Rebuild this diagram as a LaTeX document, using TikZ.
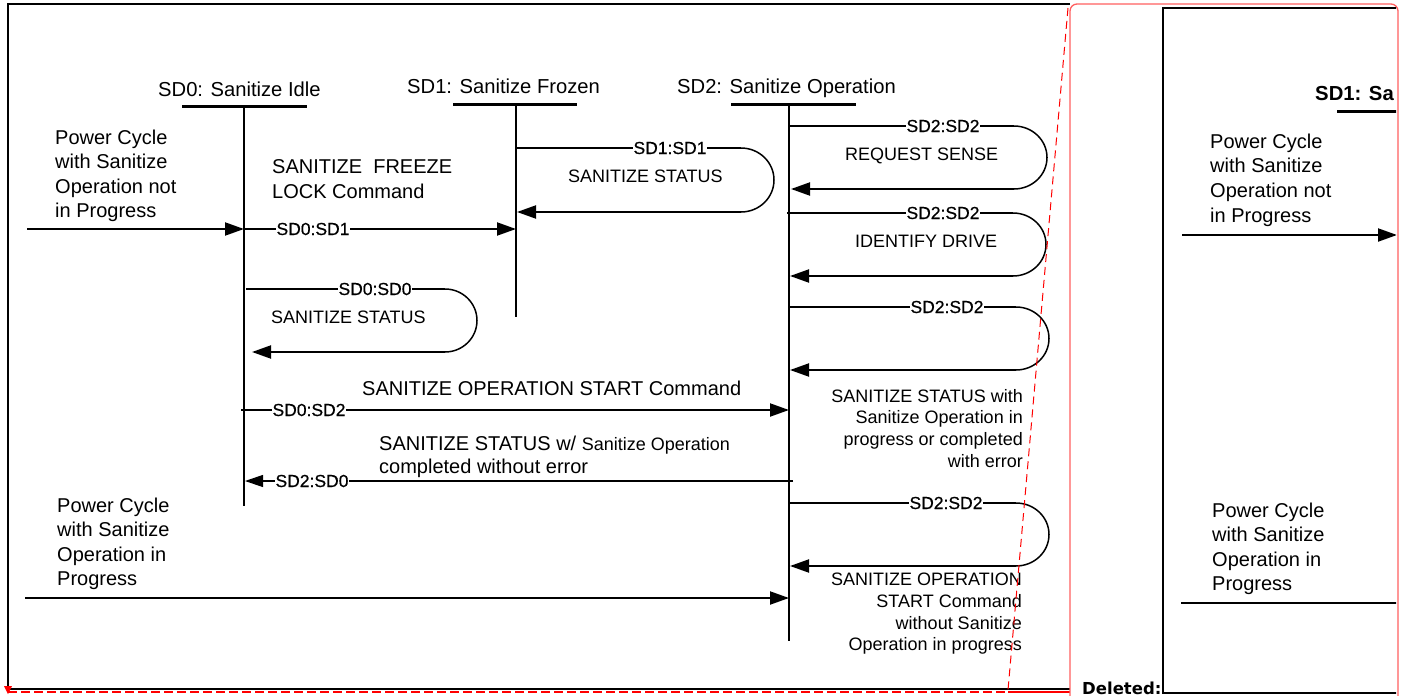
\documentclass[tikz,border=0pt]{standalone}
\usepackage{fontspec}
\setmainfont{Liberation Sans}
\newfontfamily\delfont{DejaVu Sans}
\newfontfamily\lblfont{Liberation Sans}[FakeBold=0.5]
\usetikzlibrary{arrows.meta}
\definecolor{boxred}{RGB}{255,95,95}
\definecolor{dashred}{RGB}{255,0,0}
\tikzset{
 big/.style={font=\fontsize{20}{24.5}\selectfont, inner sep=0pt},
 small/.style={font=\fontsize{18}{21.7}\selectfont, inner sep=0pt},
 title/.style={font=\fontsize{20.2}{24}\selectfont, inner sep=0pt, anchor=base west},
 lbl/.style={font=\lblfont\fontsize{17.5}{20}\selectfont, fill=white, inner xsep=0.6pt, inner ysep=0pt},
 bar/.style={line width=3pt},
 life/.style={line width=2pt},
 arrhead/.style={-{Triangle[length=19pt,width=13pt]}},
 arr/.style={line width=2pt, arrhead},
 thinarr/.style={line width=1.2pt, -{Triangle[length=18pt,width=12pt]}},
 loopout/.style={line width=1.4pt},
 loopcurve/.style={line width=1.5pt},
 loopback/.style={line width=2pt, arrhead},
}
\begin{document}
\begin{tikzpicture}[x=1pt,y=-1pt]
\useasboundingbox (0,0) rectangle (1403,696);
% outer frame
\coordinate (fTR) at (1070,4); \coordinate (fTL) at (8,4);
\coordinate (fBL) at (8,689); \coordinate (fBR) at (1070,689);
\draw[line width=2pt] (fTR) -- (fTL) -- (fBL);
\draw[line width=1.4pt] (fBL) -- (fBR);

% titles, bars, lifelines
\node[title] (t0) at (158,96) {SD0: Sanitize Idle};
\node[title] (t1) at (407,93) {SD1: Sanitize Frozen};
\node[title] (t2) at (677,93) {SD2: Sanitize Operation};
\coordinate (b0l) at (182,106); \coordinate (b0r) at (307,106);
\coordinate (b1l) at (453,104); \coordinate (b1r) at (577,104);
\coordinate (b2l) at (731,104); \coordinate (b2r) at (856,104);
\draw[bar] (b0l) -- (b0r);
\draw[bar] (b1l) -- (b1r);
\draw[bar] (b2l) -- (b2r);
\coordinate (l0t) at (244,106); \coordinate (l0b) at (244,506);
\coordinate (l1t) at (516,104); \coordinate (l1b) at (516,317);
\coordinate (l2t) at (789,104); \coordinate (l2b) at (789,641);
\draw[life] (l0t) -- (l0b);
\draw[life] (l1t) -- (l1b);
\draw[life] (l2t) -- (l2b);

% texts
\node[big, anchor=north west, align=left] (pc1) at (55,129.4) {Power Cycle\\with Sanitize\\Operation not\\in Progress};
\node[big, anchor=north west, align=left] (frz) at (272,159.7) {SANITIZE\ \ FREEZE\\LOCK Command};
\node[big, anchor=base west] (opst) at (362,395) {SANITIZE OPERATION START Command};
\node[anchor=north west, align=left, inner sep=0pt, font=\fontsize{20}{23}\selectfont] (stw) at (379,435.7) {SANITIZE STATUS w/ {\fontsize{18}{21}\selectfont Sanitize Operation}\\completed without error};
\node[big, anchor=north west, align=left] (pc2) at (57,497.4) {Power Cycle\\with Sanitize\\Operation in\\Progress};
\node[small, anchor=base west] (ss0) at (271,323) {SANITIZE STATUS};
\node[small, anchor=base west] (ss1) at (568,182) {SANITIZE STATUS};
\node[small, anchor=base west] (rs) at (845,160) {REQUEST SENSE};
\node[small, anchor=base west] (idd) at (855,247) {IDENTIFY DRIVE};
\node[small, anchor=north east, align=right] (ssw) at (1023,388.9) {SANITIZE STATUS with\\Sanitize Operation in\\progress or completed\\with error};
\node[small, anchor=north east, align=right] (sow) at (1022,573.1) {SANITIZE OPERATION\\START Command\\without Sanitize\\Operation in progress};

% straight messages
\coordinate (pc1s) at (27,229); \coordinate (m1a) at (244,229); \coordinate (m1b) at (516,229);
\draw[arr] (pc1s) -- (m1a);
\draw[arr] (m1a) -- (m1b);
\node[lbl] (n01) at (313,229) {SD0:SD1};
\coordinate (m2a) at (241,410); \coordinate (m2b) at (789,410);
\draw[arr] (m2a) -- (m2b);
\node[lbl] (n02) at (309,410) {SD0:SD2};
\coordinate (m3a) at (793,481); \coordinate (m3b) at (245,481);
\draw[thinarr] (m3a) -- (m3b);
\node[lbl] (n20) at (312,481) {SD2:SD0};
\coordinate (pc2s) at (25,598); \coordinate (pc2e) at (789,598);
\draw[arr] (pc2s) -- (pc2e);

% self loops
% SD0
\coordinate (a0) at (246,289); \coordinate (a0b) at (445,289); \coordinate (a0c) at (445,352); \coordinate (a0d) at (252,352);
\draw[loopout] (a0) -- (a0b);
\draw[loopcurve] (a0b) arc[start angle=-90,end angle=90,x radius=32,y radius=31.5];
\draw[loopback] (a0c) -- (a0d);
\node[lbl] (n00) at (375,289) {SD0:SD0};
% SD1
\coordinate (a1) at (516,148); \coordinate (a1b) at (741,148); \coordinate (a1c) at (741,212); \coordinate (a1d) at (517,212);
\draw[loopout] (a1) -- (a1b);
\draw[loopcurve] (a1b) arc[start angle=-90,end angle=90,x radius=33,y radius=32];
\draw[loopback] (a1c) -- (a1d);
\node[lbl] (n11) at (670,148) {SD1:SD1};
% SD2 #1
\coordinate (c1) at (789,126); \coordinate (c1b) at (1014,126); \coordinate (c1c) at (1014,189); \coordinate (c1d) at (791,189);
\draw[loopout] (c1) -- (c1b);
\draw[loopcurve] (c1b) arc[start angle=-90,end angle=90,x radius=33,y radius=31.5];
\draw[loopback] (c1c) -- (c1d);
\node[lbl] (n22a) at (943,126) {SD2:SD2};
% SD2 #2
\coordinate (c2) at (787,213); \coordinate (c2b) at (1013,213); \coordinate (c2c) at (1013,276); \coordinate (c2d) at (790,276);
\draw[loopout] (c2) -- (c2b);
\draw[loopcurve] (c2b) arc[start angle=-90,end angle=90,x radius=33,y radius=31.5];
\draw[loopback] (c2c) -- (c2d);
\node[lbl] (n22b) at (943,213) {SD2:SD2};
% SD2 #3
\coordinate (c3) at (790,307); \coordinate (c3b) at (1016,307); \coordinate (c3c) at (1016,370); \coordinate (c3d) at (790,370);
\draw[loopout] (c3) -- (c3b);
\draw[loopcurve] (c3b) arc[start angle=-90,end angle=90,x radius=33,y radius=31.5];
\draw[loopback] (c3c) -- (c3d);
\node[lbl] (n22c) at (947,307) {SD2:SD2};
% SD2 #4
\coordinate (c4) at (790,503); \coordinate (c4b) at (1016,503); \coordinate (c4c) at (1016,566); \coordinate (c4d) at (790,566);
\draw[loopout] (c4) -- (c4b);
\draw[loopcurve] (c4b) arc[start angle=-90,end angle=90,x radius=33,y radius=31.5];
\draw[loopback] (c4c) -- (c4d);
\node[lbl] (n22d) at (946,503) {SD2:SD2};

% comment markup (red)
\coordinate (dA) at (1068,8); \coordinate (dB) at (1008,690);
\draw[dashred, line width=1pt, dash pattern=on 8pt off 5pt] (dA) -- (dB);
\coordinate (hA) at (8,692); \coordinate (hB) at (1008,692); \coordinate (hC) at (1070,692);
\draw[dashred, line width=2pt, dash pattern=on 9pt off 4pt] (hA) -- (hB);
\draw[dashred, line width=1.2pt] (hB) -- (hC);
\fill[dashred] (4,686) -- (12,686) -- (8,694) -- cycle;
\coordinate (rb1) at (1070,700); \coordinate (rb2) at (1070,4); \coordinate (rb3) at (1398,4); \coordinate (rb4) at (1398,700);
\draw[boxred, line width=1.3pt, rounded corners=7pt] (rb1) -- (rb2) -- (rb3) -- (rb4);
\node[font=\delfont\bfseries\fontsize{16.5}{18}\selectfont, anchor=base west, inner sep=0pt] (del) at (1082,694) {Deleted:};

% deleted panel (clipped)
\begin{scope}
\clip (1160,0) rectangle (1396,696);
\coordinate (p1) at (1420,8); \coordinate (p2) at (1163,8); \coordinate (p3) at (1163,693); \coordinate (p4) at (1420,693);
\draw[line width=2pt] (p1) -- (p2) -- (p3) -- (p4);
\node[font=\bfseries\fontsize{20.3}{24}\selectfont, anchor=base west, inner sep=0pt] (rt1) at (1315,100) {SD1: Sa};
\coordinate (rbl) at (1337,111); \coordinate (rbr) at (1430,111);
\draw[bar] (rbl) -- (rbr);
\node[font=\fontsize{20}{24.7}\selectfont, inner sep=0pt, anchor=north west, align=left] (rpc1) at (1210,133.4) {Power Cycle\\with Sanitize\\Operation not\\in Progress};
\node[font=\fontsize{20}{24.5}\selectfont, inner sep=0pt, anchor=north west, align=left] (rpc2) at (1212,502.4) {Power Cycle\\with Sanitize\\Operation in\\Progress};
\coordinate (ra1) at (1182,235); \coordinate (ra2) at (1397,235);
\draw[arr] (ra1) -- (ra2);
\coordinate (rl1) at (1181,603); \coordinate (rl2) at (1420,603);
\draw[line width=2pt] (rl1) -- (rl2);
\end{scope}
\end{tikzpicture}
\end{document}
